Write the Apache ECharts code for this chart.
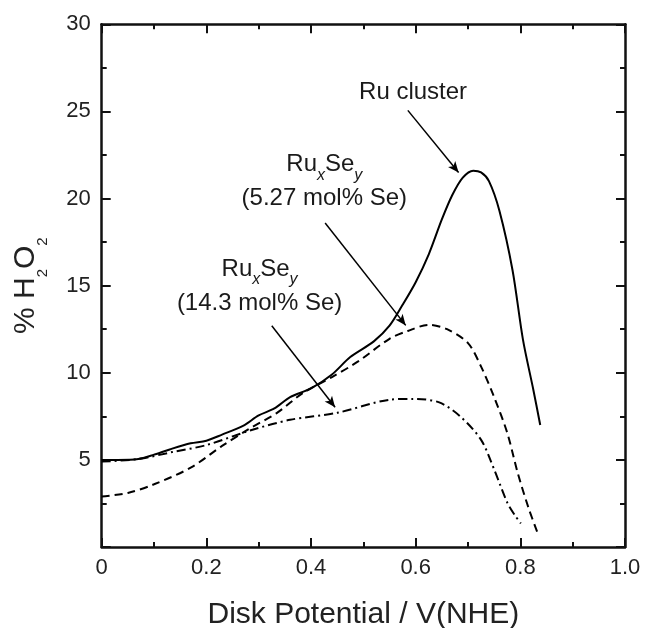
<!DOCTYPE html>
<html>
<head>
<meta charset="utf-8">
<script src="https://cdn.jsdelivr.net/npm/echarts@6/dist/echarts.min.js"></script>
<style>
  html, body { margin: 0; padding: 0; background: #fff; }
  #main { width: 645px; height: 628px; }
</style>
</head>
<body>
<div id="main"></div>
<script>
var FONT = 'Liberation Sans, Arial, Helvetica, sans-serif';

// tick labels
var xTickLabels = ['0', '0.2', '0.4', '0.6', '0.8', '1.0'];
var yTickLabels = ['', '5', '10', '15', '20', '25', '30'];

// % H2O2 vs disk potential
var ruCluster = [
    [0.00, 5.00], [0.03, 5.00], [0.07, 5.05], [0.10, 5.30], [0.13, 5.60],
    [0.17, 5.95], [0.20, 6.10], [0.23, 6.45], [0.27, 6.95], [0.30, 7.55],
    [0.33, 7.95], [0.36, 8.60], [0.40, 9.10], [0.44, 9.90], [0.475, 10.90],
    [0.52, 11.80], [0.55, 12.70], [0.575, 13.90], [0.60, 15.20], [0.625, 16.80],
    [0.65, 18.80], [0.67, 20.20], [0.69, 21.20], [0.71, 21.60], [0.725, 21.50],
    [0.74, 21.00], [0.76, 19.30], [0.785, 15.90], [0.805, 11.90], [0.825, 9.00],
    [0.838, 7.00]
];
var ruSe527 = [
    [0.00, 2.90], [0.05, 3.10], [0.10, 3.60], [0.17, 4.55], [0.23, 5.80],
    [0.28, 6.75], [0.335, 7.70], [0.385, 8.85], [0.44, 9.75], [0.49, 10.65],
    [0.55, 11.95], [0.585, 12.40], [0.625, 12.75], [0.66, 12.50], [0.70, 11.70],
    [0.725, 10.35], [0.75, 8.60], [0.775, 6.55], [0.795, 4.25], [0.815, 2.30],
    [0.833, 0.80]
];
var ruSe143 = [
    [0.00, 4.90], [0.07, 5.05], [0.135, 5.45], [0.20, 5.85], [0.285, 6.70],
    [0.36, 7.30], [0.45, 7.70], [0.55, 8.45], [0.595, 8.50], [0.645, 8.30],
    [0.685, 7.50], [0.725, 6.15], [0.75, 4.45], [0.775, 2.55], [0.79, 1.80],
    [0.801, 1.35]
];

// annotation arrows: [from, to] in data units
var arrowRu = [[0.585, 25.06], [0.682, 21.49]];
var arrow527 = [[0.427, 18.60], [0.581, 12.72]];
var arrow143 = [[0.325, 12.70], [0.446, 8.02]];

// annotation texts and their anchors in data units
var labelRu = [0.595, 26.11];          // centre of the text
var label527 = [0.4254, 22.66];        // centre-top of the text block
var label143 = [0.3017, 16.65];
var textRu = 'Ru cluster';
var text527 = '{m|Ru}{s|x}{m|Se}{s|y}\n{m|(5.27 mol% Se)}';
var text143 = '{m|Ru}{s|x}{m|Se}{s|y}\n{m|(14.3 mol% Se)}';

var annRich = {
    m: { fontSize: 24, lineHeight: 26, verticalAlign: 'top', fontFamily: FONT, color: '#1a1a1a' },
    s: { fontSize: 16, fontStyle: 'italic', lineHeight: 34, padding: [0, 0, 3, 0],
         verticalAlign: 'bottom', fontFamily: FONT, color: '#1a1a1a' }
};

function arrowLine(pair) {
    return {
        symbol: ['none', 'arrow'],
        symbolSize: [7, 11],
        silent: true,
        animation: false,
        label: { show: false },
        lineStyle: { color: '#000', width: 1.5, type: 'solid' },
        data: [[{ coord: pair[0] }, { coord: pair[1] }]]
    };
}

function textMark(anchor, text, position) {
    return {
        symbol: 'circle',
        symbolSize: 0,
        silent: true,
        animation: false,
        itemStyle: { color: 'transparent' },
        label: {
            show: true,
            position: position,
            distance: 0,
            align: 'center',
            formatter: text,
            fontSize: 24,
            lineHeight: 26,
            fontFamily: FONT,
            color: '#1a1a1a',
            rich: annRich
        },
        data: [{ coord: anchor }]
    };
}

function xAxisOf(pos, showLabel) {
    return {
        type: 'value',
        position: pos,
        min: 0,
        max: 1,
        interval: 0.2,
        axisLine: { show: true, onZero: false, lineStyle: { color: '#111', width: 2.5 } },
        axisTick: { show: true, inside: true, length: 9, lineStyle: { color: '#111', width: 2 } },
        minorTick: { show: true, splitNumber: 2, length: 5, lineStyle: { color: '#111', width: 2 } },
        splitLine: { show: false },
        minorSplitLine: { show: false },
        axisLabel: {
            show: showLabel,
            margin: 10,
            fontSize: 22,
            fontFamily: FONT,
            color: '#222',
            formatter: function (v) { return xTickLabels[Math.round(v / 0.2)]; }
        }
    };
}

function yAxisOf(pos, showLabel) {
    return {
        type: 'value',
        position: pos,
        min: 0,
        max: 30,
        interval: 5,
        axisLine: { show: true, onZero: false, lineStyle: { color: '#111', width: 2.5 } },
        axisTick: { show: true, inside: true, length: 9, lineStyle: { color: '#111', width: 2 } },
        minorTick: { show: true, splitNumber: 2, length: 5, lineStyle: { color: '#111', width: 2 } },
        splitLine: { show: false },
        minorSplitLine: { show: false },
        axisLabel: {
            show: showLabel,
            margin: 11,
            fontSize: 22,
            fontFamily: FONT,
            color: '#222',
            formatter: function (v) { return yTickLabels[Math.round(v / 5)]; }
        }
    };
}

var xBottom = xAxisOf('bottom', true);
xBottom.name = 'Disk Potential / V(NHE)';
xBottom.nameLocation = 'middle';
xBottom.nameGap = 53;
xBottom.nameTextStyle = { fontSize: 30, lineHeight: 30, fontFamily: FONT, color: '#222' };

var yLeft = yAxisOf('left', true);
yLeft.name = '{m|% H}{s|2}{m|O}{s|2}';
yLeft.nameLocation = 'middle';
yLeft.nameGap = 59;
yLeft.nameTextStyle = {
    color: '#222',
    fontFamily: FONT,
    rich: {
        m: { fontSize: 30, lineHeight: 32, verticalAlign: 'top', fontFamily: FONT, color: '#222' },
        s: { fontSize: 15, lineHeight: 15, padding: [25, 0, 0, 0], verticalAlign: 'top', fontFamily: FONT, color: '#222' }
    }
};

var xTop = xAxisOf('top', false);
var yRight = yAxisOf('right', false);

var myChart = echarts.init(document.getElementById('main'), null, { renderer: 'canvas' });

myChart.setOption({
    animation: false,
    backgroundColor: '#fff',
    grid: { left: 101.7, right: 20, top: 24.3, bottom: 81, containLabel: false, outerBoundsMode: 'none' },
    xAxis: [xBottom, xTop],
    yAxis: [yLeft, yRight],
    series: [
        {
            name: 'Ru cluster',
            type: 'line',
            data: ruCluster,
            smooth: 0.3,
            showSymbol: false,
            lineStyle: { color: '#000', width: 2, type: 'solid' },
            markLine: arrowLine(arrowRu),
            markPoint: textMark(labelRu, textRu, 'inside')
        },
        {
            name: 'RuxSey 5.27',
            type: 'line',
            data: ruSe527,
            smooth: 0.3,
            showSymbol: false,
            lineStyle: { color: '#000', width: 2, type: [8, 5] },
            markLine: arrowLine(arrow527),
            markPoint: textMark(label527, text527, 'bottom')
        },
        {
            name: 'RuxSey 14.3',
            type: 'line',
            data: ruSe143,
            smooth: 0.3,
            showSymbol: false,
            lineStyle: { color: '#000', width: 2, type: [9, 4, 2, 4] },
            markLine: arrowLine(arrow143),
            markPoint: textMark(label143, text143, 'bottom')
        }
    ]
});
</script>
</body>
</html>
